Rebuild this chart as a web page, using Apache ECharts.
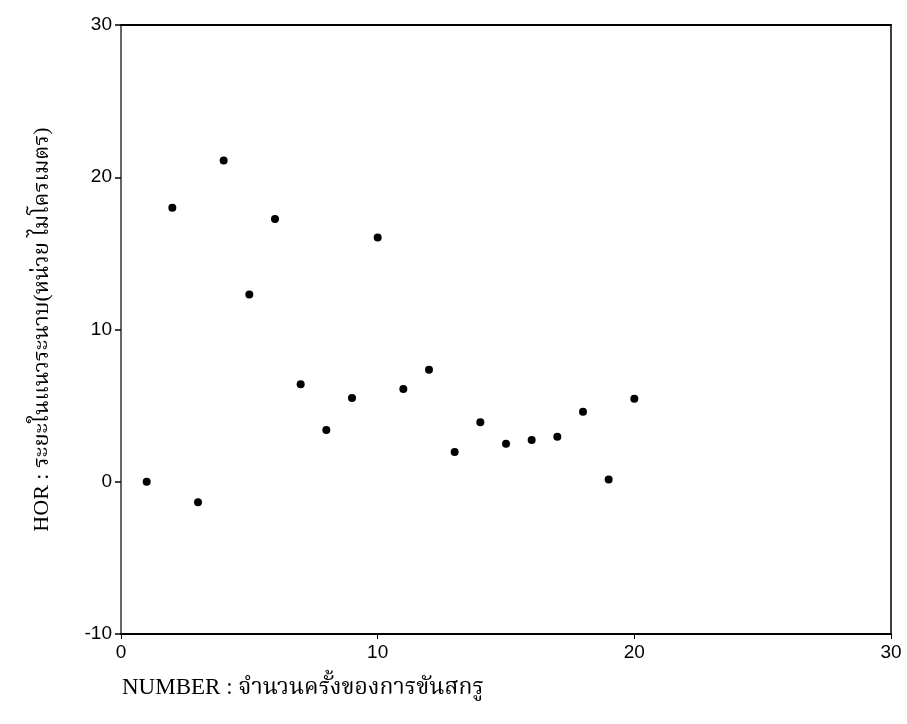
<!DOCTYPE html>
<html>
<head>
<meta charset="utf-8">
<script src="https://cdn.jsdelivr.net/npm/echarts@6/dist/echarts.min.js"></script>
<style>
  html, body { margin: 0; padding: 0; background: #fff; }
  #chart { width: 907px; height: 724px; }
</style>
</head>
<body>
<div id="chart"></div>
<script>
// จำนวนครั้งของการขันสกรู (x) กับ ระยะในแนวระนาบ (y)
const numbers = [1, 2, 3, 4, 5, 6, 7, 8, 9, 10, 11, 12, 13, 14, 15, 16, 17, 18, 19, 20];
const horValues = [0.0, 18.0, -1.35, 21.1, 12.3, 17.25, 6.4, 3.4, 5.5, 16.05,
                   6.1, 7.35, 1.95, 3.9, 2.5, 2.75, 2.95, 4.6, 0.15, 5.45];
const xTicks = [0, 10, 20, 30];
const yTicks = [-10, 0, 10, 20, 30];

const xName = 'NUMBER : จำนวนครั้งของการขันสกรู';
const yName = 'HOR : ระยะในแนวระนาบ(หน่วย ไมโครเมตร)';

const points = numbers.map((n, i) => [n, horValues[i]]);

const chart = echarts.init(document.getElementById('chart'), null, { renderer: 'canvas' });

const labelFont = { color: '#000', fontFamily: 'Liberation Sans, Arial, sans-serif', fontSize: 19 };
const serif = '"Liberation Serif", "Noto Serif Thai", "Noto Sans Thai", serif';

chart.setOption({
  animation: false,
  backgroundColor: '#fff',
  title: {
    text: xName,
    left: 117,
    top: 671,
    textStyle: { fontFamily: serif, fontSize: 23, fontWeight: 'normal', color: '#000' }
  },
  grid: { left: 121, right: 16, top: 25, bottom: 90 },
  xAxis: [{
    type: 'value',
    min: xTicks[0],
    max: xTicks[xTicks.length - 1],
    interval: 10,
    position: 'bottom',
    axisLine: { onZero: false, lineStyle: { color: '#000', width: 2 } },
    axisTick: { show: true, inside: false, length: 5, lineStyle: { color: '#000' } },
    axisLabel: Object.assign({ margin: 9 }, labelFont),
    splitLine: { show: false }
  }, {
    type: 'value',
    min: xTicks[0],
    max: xTicks[xTicks.length - 1],
    position: 'top',
    axisLine: { onZero: false, lineStyle: { color: '#000', width: 2 } },
    axisTick: { show: false },
    axisLabel: { show: false },
    splitLine: { show: false }
  }],
  yAxis: [{
    type: 'value',
    min: yTicks[0],
    max: yTicks[yTicks.length - 1],
    interval: 10,
    position: 'left',
    name: yName,
    nameLocation: 'middle',
    nameGap: 68,
    nameTextStyle: { fontFamily: serif, fontSize: 22, color: '#000' },
    axisLine: { onZero: false, lineStyle: { color: '#666', width: 2 } },
    axisTick: { show: true, inside: false, length: 6, lineStyle: { color: '#000', width: 1.5 } },
    axisLabel: Object.assign({ margin: 9 }, labelFont),
    splitLine: { show: false }
  }, {
    type: 'value',
    min: yTicks[0],
    max: yTicks[yTicks.length - 1],
    position: 'right',
    axisLine: { onZero: false, lineStyle: { color: '#000', width: 1.5 } },
    axisTick: { show: false },
    axisLabel: { show: false },
    splitLine: { show: false }
  }],
  series: [{
    type: 'scatter',
    xAxisIndex: 0,
    yAxisIndex: 0,
    data: points,
    symbol: 'circle',
    symbolSize: 8,
    itemStyle: { color: '#000', opacity: 1 }
  }]
});
</script>
</body>
</html>
